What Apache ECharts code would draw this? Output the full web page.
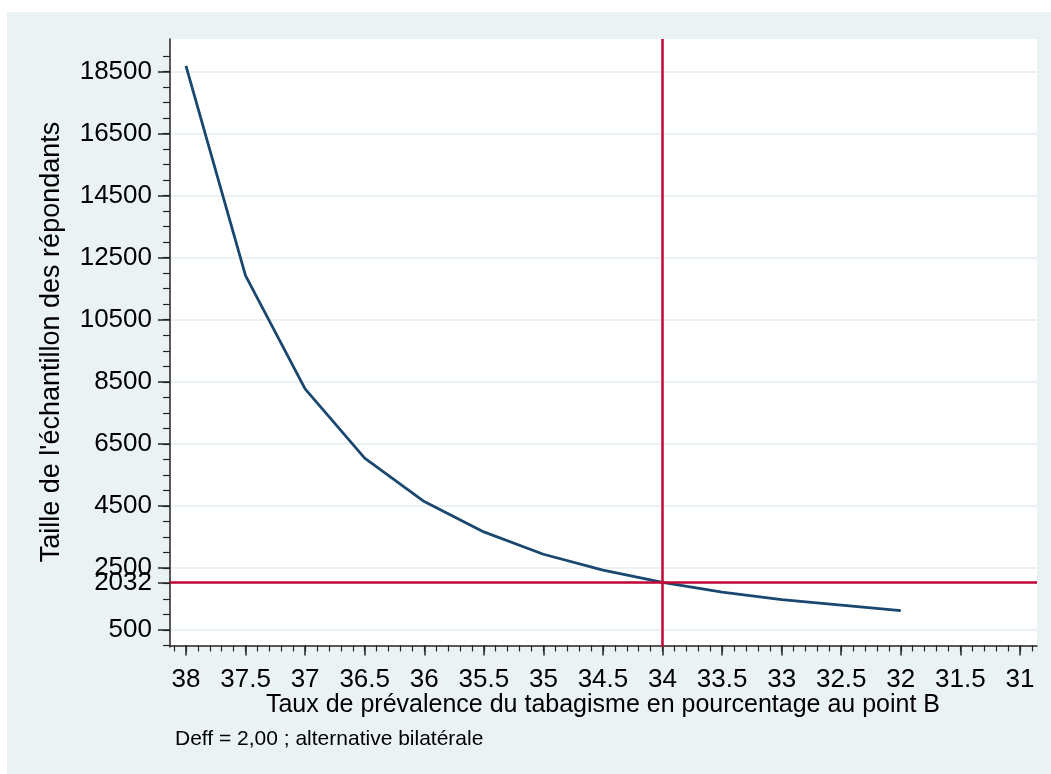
<!DOCTYPE html>
<html>
<head>
<meta charset="utf-8">
<script src="https://cdn.jsdelivr.net/npm/echarts@6/dist/echarts.min.js"></script>
<style>
html,body{margin:0;padding:0;background:#fff;}
#panel{position:absolute;left:7px;top:12px;right:0;bottom:0;background:#eaf2f3;}
#chart{position:absolute;left:0;top:0;width:1051px;height:774px;}
</style>
</head>
<body>
<div id="panel"></div>
<div id="chart"></div>
<script>
// Data
const prevalence = [38, 37.5, 37, 36.5, 36, 35.5, 35, 34.5, 34, 33.5, 33, 32.5, 32];
const sampleSize = [18680, 11920, 8270, 6040, 4640, 3660, 2940, 2430, 2032, 1720, 1480, 1300, 1120];
const refSample = 2032;
const refPrevalence = 34;
const xTickLabels = [38, 37.5, 37, 36.5, 36, 35.5, 35, 34.5, 34, 33.5, 33, 32.5, 32, 31.5, 31];
const yTickLabels = [500, 2032, 2500, 4500, 6500, 8500, 10500, 12500, 14500, 16500, 18500];
const yMinorTicks = [0,500,1000,1500,2000,2500,3000,3500,4000,4500,5000,5500,6000,6500,7000,7500,8000,8500,9000,9500,10000,10500,11000,11500,12000,12500,13000,13500,14000,14500,15000,15500,16000,16500,17000,17500,18000,18500,19000];
const xMinorTicks = [];
for (let i = 309; i <= 381; i++) xMinorTicks.push(i / 10);
const xTitle = 'Taux de prévalence du tabagisme en pourcentage au point B';
const yTitle = "Taille de l'échantillon des répondants";
const note = 'Deff = 2,00 ; alternative bilatérale';

const FONT = '"Liberation Sans", Arial, sans-serif';
const X_MIN = 30.857, X_MAX = 38.134, Y_MIN = -50, Y_MAX = 19550;

const chart = echarts.init(document.getElementById('chart'), null, {renderer: 'canvas'});
const axisLine = {show: true, lineStyle: {color: '#222', width: 1.5}};
const plain = v => String(v);
chart.setOption({
  backgroundColor: 'transparent',
  animation: false,
  grid: {left: 170, top: 39, right: 14, bottom: 127, show: true, backgroundColor: '#fff', borderWidth: 0},
  xAxis: [
    {type: 'value', inverse: true, min: X_MIN, max: X_MAX,
     axisLine: axisLine,
     axisTick: {show: true, length: 10, customValues: xTickLabels, lineStyle: {color: '#222', width: 1.5}},
     axisLabel: {show: true, customValues: xTickLabels, formatter: plain, margin: 20, color: '#000', fontSize: 26, fontFamily: FONT},
     splitLine: {show: false}},
    {type: 'value', inverse: true, min: X_MIN, max: X_MAX, position: 'bottom',
     axisLine: {show: false},
     axisTick: {show: true, length: 6, customValues: xMinorTicks, lineStyle: {color: '#222', width: 1.2}},
     axisLabel: {show: false},
     splitLine: {show: false}}
  ],
  yAxis: [
    {type: 'value', min: Y_MIN, max: Y_MAX,
     axisLine: axisLine,
     axisTick: {show: true, length: 12, customValues: yTickLabels, lineStyle: {color: '#222', width: 1.5}},
     axisLabel: {show: true, customValues: yTickLabels, formatter: plain, margin: 18, color: '#000', fontSize: 26, fontFamily: FONT},
     splitLine: {show: true, lineStyle: {color: '#eaf2f3', width: 2}}},
    {type: 'value', min: Y_MIN, max: Y_MAX, position: 'left',
     axisLine: {show: false},
     axisTick: {show: true, length: 7, customValues: yMinorTicks, lineStyle: {color: '#222', width: 1.2}},
     axisLabel: {show: false},
     splitLine: {show: false}}
  ],
  series: [{
    type: 'line',
    xAxisIndex: 0, yAxisIndex: 0,
    data: prevalence.map((p, i) => [p, sampleSize[i]]),
    showSymbol: false,
    symbol: 'none',
    lineStyle: {color: '#1a476f', width: 2.8},
    z: 3,
    markLine: {
      silent: true,
      symbol: ['none', 'none'],
      label: {show: false},
      lineStyle: {color: '#c10534', width: 2.5, type: 'solid'},
      data: [{yAxis: refSample}, {xAxis: refPrevalence}]
    }
  }],
  graphic: [
    {type: 'text', x: 52, y: 342, rotation: Math.PI / 2,
     style: {text: yTitle, fill: '#000', font: '27px ' + FONT, align: 'center', verticalAlign: 'middle'}},
    {type: 'text', x: 603, y: 705,
     style: {text: xTitle, fill: '#000', font: '25px ' + FONT, align: 'center', verticalAlign: 'middle'}},
    {type: 'text', x: 175, y: 739,
     style: {text: note, fill: '#000', font: '21px ' + FONT, align: 'left', verticalAlign: 'middle'}}
  ]
});
</script>
</body>
</html>
